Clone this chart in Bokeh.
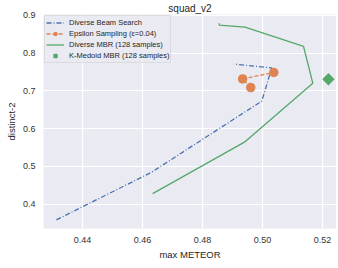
import math
from bokeh.plotting import figure
from bokeh.models import Range1d, FixedTicker, Legend, LegendItem
from bokeh.embed import file_html
from bokeh.resources import INLINE

# ---- data ----
dbs_meteor = [0.4313, 0.4631, 0.4998, 0.5031, 0.4907]
dbs_distinct = [0.359, 0.485, 0.673, 0.7606, 0.7709]

eps_meteor = [0.4961, 0.4934, 0.5038]
eps_distinct = [0.7087, 0.7317, 0.7486]

dmbr_meteor = [0.4634, 0.4940, 0.5168, 0.5137, 0.4942, 0.4856, 0.4856]
dmbr_distinct = [0.4281, 0.5644, 0.7202, 0.8177, 0.8688, 0.8739, 0.8790]

kmed_meteor = [0.5220]
kmed_distinct = [0.7307]

x_ticks = [0.44, 0.46, 0.48, 0.50, 0.52]
x_tick_labels = ["0.44", "0.46", "0.48", "0.50", "0.52"]
y_ticks = [0.4, 0.5, 0.6, 0.7, 0.8, 0.9]
y_tick_labels = ["0.4", "0.5", "0.6", "0.7", "0.8", "0.9"]

X_START, X_END = 0.427, 0.5247
Y_START, Y_END = 0.336, 0.902

BLUE = "#4C72B0"
ORANGE = "#DD8452"
GREEN = "#55A868"
BG = "#EAEAF2"
TXT = "#262626"
FONT = "Liberation Sans"

p = figure(width=336, height=262, output_backend="svg", toolbar_location=None,
           x_range=Range1d(X_START, X_END), y_range=Range1d(Y_START, Y_END),
           min_border_left=43, min_border_right=0, min_border_top=12, min_border_bottom=31,
           title="squad_v2")
p.title.align = "center"
p.title.text_font = FONT
p.title.text_font_size = "10px"
p.title.text_font_style = "normal"
p.title.text_color = TXT
p.title.standoff = 1
p.title.offset = 0

p.background_fill_color = BG
p.border_fill_color = "white"
p.outline_line_color = None

for ax in (p.xaxis[0], p.yaxis[0]):
    ax.axis_line_color = None
    ax.major_tick_line_color = None
    ax.minor_tick_line_color = None
    ax.major_tick_out = 0
    ax.major_tick_in = 0
    ax.major_label_text_font = FONT
    ax.major_label_text_font_size = "9px"
    ax.major_label_text_color = "#333333"
    ax.axis_label_text_font = FONT
    ax.axis_label_text_font_size = "9.5px"
    ax.axis_label_text_font_style = "normal"
    ax.axis_label_text_color = TXT

p.xaxis[0].ticker = FixedTicker(ticks=x_ticks)
p.xaxis[0].major_label_overrides = dict(zip(x_ticks, x_tick_labels))
p.yaxis[0].ticker = FixedTicker(ticks=y_ticks)
p.yaxis[0].major_label_overrides = dict(zip(y_ticks, y_tick_labels))
p.xaxis[0].axis_label = "max METEOR"
p.yaxis[0].axis_label = "distinct-2"
p.xaxis[0].major_label_standoff = 8
p.xaxis[0].axis_label_standoff = 3
p.yaxis[0].major_label_standoff = 8
p.yaxis[0].axis_label_standoff = 3

p.xgrid.grid_line_color = "white"
p.ygrid.grid_line_color = "white"
p.xgrid.grid_line_width = 1.2
p.ygrid.grid_line_width = 1.2

r_dbs = p.line(dbs_meteor, dbs_distinct, line_color=BLUE, line_width=1.3, line_dash="5 2 1 2")
r_eps_l = p.line(eps_meteor, eps_distinct, line_color=ORANGE, line_width=1.3, line_dash="4 2")
r_eps_s = p.scatter(eps_meteor, eps_distinct, marker="circle", size=9.5,
                    fill_color=ORANGE, line_color=None)
r_dmbr = p.line(dmbr_meteor, dmbr_distinct, line_color=GREEN, line_width=1.3)
r_kmed = p.scatter(kmed_meteor, kmed_distinct, marker="square", size=8.7, angle=math.pi / 4,
                   fill_color=GREEN, line_color=None)

legend = Legend(items=[
    LegendItem(label="Diverse Beam Search", renderers=[r_dbs]),
    LegendItem(label="Epsilon Sampling (ε=0.04)", renderers=[r_eps_l, r_eps_s]),
    LegendItem(label="Diverse MBR (128 samples)", renderers=[r_dmbr]),
    LegendItem(label="K-Medoid MBR (128 samples)", renderers=[r_kmed]),
], location="top_left")
legend.label_text_font = FONT
legend.label_text_font_size = "7.5px"
legend.label_text_color = TXT
legend.glyph_width = 18
legend.glyph_height = 11
legend.label_height = 11
legend.spacing = 0
legend.padding = 1
legend.margin = 1
legend.label_standoff = 5
legend.border_line_color = "#cccccc"
legend.border_line_width = 1
legend.background_fill_color = BG
legend.background_fill_alpha = 0.8
p.add_layout(legend, "center")

open("out.html", "w").write(file_html(p, INLINE))
